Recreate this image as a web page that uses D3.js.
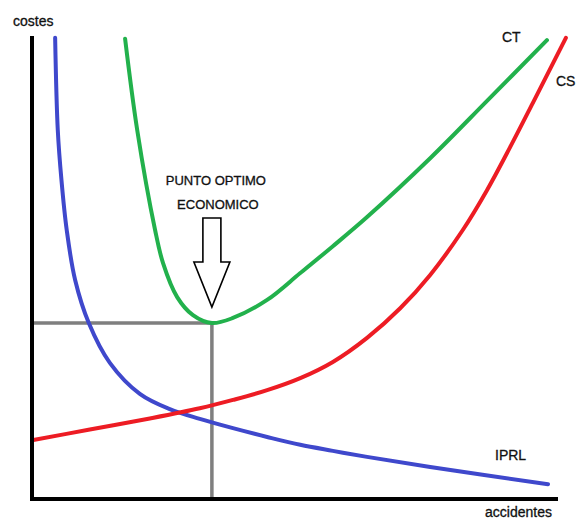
<!DOCTYPE html>
<html>
<head>
<meta charset="utf-8">
<script src="https://cdn.jsdelivr.net/npm/d3@7"></script>
<style>
  body { margin: 0; background: #fff; }
  text { font-family: "Liberation Sans", Arial, sans-serif; fill: #111; stroke: #111; stroke-width: 0.3; }
</style>
</head>
<body>
<div id="chart-area"></div>
<script>
// curve points: [accidentes, costes], arbitrary units 0-100
var iprl = [[4.4, 99.6], [4.9, 79.7], [5.6, 68.9], [6.6, 58.1], [8.2, 47.3], [10.8, 38.0],
  [14.8, 29.4], [20.5, 22.7], [26.2, 19.4], [31.9, 17.3], [38.2, 15.3], [44.7, 13.4],
  [51.0, 11.7], [57.2, 10.4], [63.7, 9.1], [75.7, 6.9], [98.1, 3.2]];
var cs = [[0, 12.7], [11.0, 15.0], [22.4, 17.4], [31.9, 19.6], [38.2, 21.4], [44.7, 23.5],
  [51.0, 26.1], [57.2, 29.6], [63.7, 34.8], [70.0, 41.2], [75.7, 48.4], [81.9, 58.1],
  [86.5, 66.7], [90.9, 76.0], [95.2, 85.5], [101.5, 99.6]];
var ct = [[17.7, 99.4], [20.0, 79.7], [23.4, 58.1], [24.9, 51.0], [27.6, 43.6], [30.6, 39.7],
  [34.2, 38.0], [38.2, 39.1], [44.7, 43.0], [51.0, 48.8], [57.2, 54.6], [63.7, 60.9],
  [75.7, 73.6], [86.7, 86.2], [97.9, 99.1]];
var optimum = [34.2, 38.0];

var seriesNames = ["IPRL", "CS", "CT"];
var seriesColors = ["#3f48cc", "#ed1c24", "#22b14c"];

var width = 577, height = 519;

var svg = d3.select("#chart-area")
  .append("svg")
  .attr("width", width)
  .attr("height", height);

var xScale = d3.scaleLinear().domain([0, 100]).range([32, 558]);
var yScale = d3.scaleLinear().domain([0, 100]).range([499, 36]);

// gray guide lines to the optimum
svg.append("path")
  .attr("d", "M" + xScale(0) + "," + yScale(optimum[1]) +
    "H" + xScale(optimum[0]) + "V" + (yScale(0) + 2))
  .attr("fill", "none")
  .attr("stroke", "#7f7f7f")
  .attr("stroke-width", 3.5);

// curves
var line = d3.line()
  .x(function(d) { return xScale(d[0]); })
  .y(function(d) { return yScale(d[1]); })
  .curve(d3.curveCatmullRom.alpha(0.5));

[iprl, cs, ct].forEach(function(s, i) {
  svg.append("path")
    .datum(s)
    .attr("class", "curve " + seriesNames[i])
    .attr("d", line)
    .attr("fill", "none")
    .attr("stroke", seriesColors[i])
    .attr("stroke-width", 4)
    .attr("stroke-linecap", "round");
});

// axes
svg.append("line")
  .attr("x1", xScale(0)).attr("x2", xScale(0))
  .attr("y1", yScale(100)).attr("y2", yScale(0) + 2)
  .attr("stroke", "#000").attr("stroke-width", 4);
svg.append("line")
  .attr("x1", xScale(0) - 2).attr("x2", xScale(100))
  .attr("y1", yScale(0)).attr("y2", yScale(0))
  .attr("stroke", "#000").attr("stroke-width", 4);

// arrow pointing at the optimum
var tx = xScale(optimum[0]), ty = yScale(optimum[1]) - 16;
var arrow = [[-9, -89], [9, -89], [9, -45], [18, -45], [0, 0], [-18, -45], [-9, -45]];
svg.append("path")
  .attr("d", "M" + arrow.map(function(p) { return [tx + p[0], ty + p[1]]; }).join("L") + "Z")
  .attr("fill", "#fff")
  .attr("stroke", "#000")
  .attr("stroke-width", 1.6)
  .attr("stroke-linejoin", "miter");

svg.append("text")
  .attr("x", tx + 4).attr("y", ty - 122)
  .attr("text-anchor", "middle")
  .style("font-size", "13px")
  .text("PUNTO OPTIMO");
svg.append("text")
  .attr("x", tx + 6).attr("y", ty - 98)
  .attr("text-anchor", "middle")
  .style("font-size", "13px")
  .text("ECONOMICO");

// labels
svg.append("text").attr("x", 13).attr("y", 26).style("font-size", "14px").text("costes");
svg.append("text").attr("x", 485).attr("y", 517).style("font-size", "14px").text("accidentes");
svg.append("text").attr("x", 502).attr("y", 42).style("font-size", "14px").text("CT");
svg.append("text").attr("x", 556).attr("y", 86).style("font-size", "14px").text("CS");
svg.append("text").attr("x", 495).attr("y", 460).style("font-size", "14px").text("IPRL");
</script>
</body>
</html>
